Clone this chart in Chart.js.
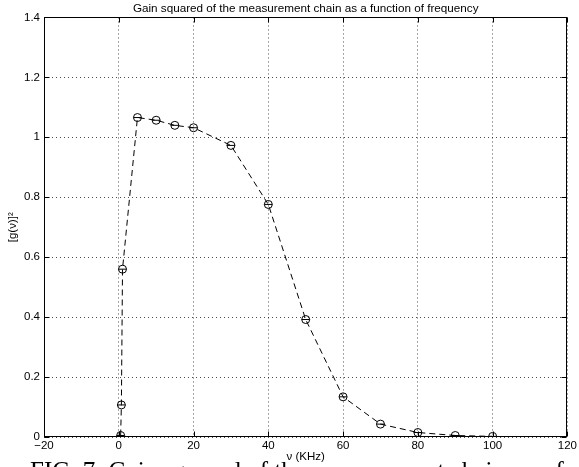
<!DOCTYPE html>
<html>
<head>
<meta charset="utf-8">
<script src="https://cdn.jsdelivr.net/npm/chart.js@4/dist/chart.umd.min.js"></script>
<style>
html,body{margin:0;padding:0;background:#fff;overflow:hidden;}
#wrap{position:relative;width:579px;height:467px;overflow:hidden;}
#c{position:absolute;left:0;top:0;}
#caption{position:absolute;left:30px;top:458px;font-family:"Liberation Serif","DejaVu Serif",serif;font-size:25px;line-height:25px;white-space:nowrap;color:#000;}
</style>
</head>
<body>
<div id="wrap">
<canvas id="c" width="579" height="467"></canvas>
<div id="caption">FIG. 7: Gain squared of the measurement chain as a function of frequency.</div>
</div>
<script>
const titleText = 'Gain squared of the measurement chain as a function of frequency';
const xLabel = 'ν (KHz)';
const yLabel = '[g(ν)]²';
const frequencies = [0.5, 0.7, 1, 5, 10, 15, 20, 30, 40, 50, 60, 70, 80, 90, 100];
const gainSquared = [0.005, 0.107, 0.56, 1.066, 1.057, 1.040, 1.032, 0.973, 0.776, 0.392, 0.134, 0.043, 0.015, 0.005, 0.002];
const xTicks = [-20, 0, 20, 40, 60, 80, 100, 120];
const yTicks = [0, 0.2, 0.4, 0.6, 0.8, 1, 1.2, 1.4];

const points = frequencies.map((f, i) => ({x: f, y: gainSquared[i]}));
const FONT = '"Liberation Sans", Arial, Helvetica, sans-serif';
Chart.defaults.font.family = FONT;
Chart.defaults.color = '#000';

const boxPlugin = {
  id: 'matlabBox',
  afterDraw(chart) {
    const {ctx, chartArea: a, scales} = chart;
    ctx.save();
    ctx.strokeStyle = '#000';
    ctx.lineWidth = 1;
    ctx.setLineDash([]);
    const L = Math.round(a.left) + 0.5, R = Math.round(a.right) - 0.5;
    const T = Math.round(a.top) + 0.5, B = Math.round(a.bottom) - 0.5;
    ctx.strokeRect(L, T, R - L, B - T);
    ctx.beginPath();
    const tl = 5;
    xTicks.forEach(v => {
      const px = Math.round(scales.x.getPixelForValue(v)) + 0.5;
      ctx.moveTo(px, B); ctx.lineTo(px, B - tl);
      ctx.moveTo(px, T); ctx.lineTo(px, T + tl);
    });
    yTicks.forEach(v => {
      const py = Math.round(scales.y.getPixelForValue(v)) + 0.5;
      ctx.moveTo(L, py); ctx.lineTo(L + tl, py);
      ctx.moveTo(R, py); ctx.lineTo(R - tl, py);
    });
    ctx.stroke();
    ctx.restore();
  }
};

new Chart(document.getElementById('c'), {
  type: 'scatter',
  data: {
    datasets: [
      {
        data: points,
        showLine: true,
        borderColor: '#000',
        borderWidth: 1,
        borderDash: [6, 4],
        tension: 0,
        pointStyle: 'circle',
        pointRadius: 4,
        pointBorderWidth: 1,
        pointBorderColor: '#000',
        pointBackgroundColor: 'rgba(0,0,0,0)'
      },
      {
        data: points,
        showLine: false,
        pointStyle: 'line',
        pointRadius: 4,
        pointBorderWidth: 1,
        pointBorderColor: '#000',
        borderColor: '#000'
      }
    ]
  },
  options: {
    responsive: false,
    animation: false,
    devicePixelRatio: 1,
    layout: {padding: {left: 0, right: 8, top: 0, bottom: 0}},
    plugins: {
      legend: {display: false},
      tooltip: {enabled: false},
      title: {
        display: true,
        text: titleText,
        fullSize: false,
        color: '#000',
        font: {family: FONT, size: 11.7, weight: 'normal', lineHeight: 1.15},
        padding: {top: 2, bottom: 2}
      }
    },
    scales: {
      x: {
        type: 'linear',
        min: -20,
        max: 120,
        afterBuildTicks: s => { s.ticks = xTicks.map(v => ({value: v})); },
        afterFit: s => { s.height = 30; },
        ticks: {color: '#000', font: {size: 11.5}, padding: 2, maxRotation: 0, autoSkip: false,
                callback: v => String(v).replace('-', '\u2212')},
        grid: {color: 'rgba(0,0,0,0.7)', lineWidth: 1, drawTicks: false, tickLength: 0},
        border: {display: false, dash: [1, 3]},
        title: {display: true, text: xLabel, color: '#000', font: {size: 11.5, lineHeight: 1.2}, padding: {top: 0, bottom: 3}}
      },
      y: {
        type: 'linear',
        min: 0,
        max: 1.4,
        afterBuildTicks: s => { s.ticks = yTicks.map(v => ({value: v})); },
        afterFit: s => { s.width = 44; },
        ticks: {color: '#000', font: {size: 11.5}, padding: 4, callback: v => String(+v.toFixed(1))},
        grid: {color: 'rgba(0,0,0,0.7)', lineWidth: 1, drawTicks: false, tickLength: 0},
        border: {display: false, dash: [1, 3]},
        title: {display: true, text: yLabel, color: '#000', font: {size: 11.5, lineHeight: 1.2}, padding: {top: 6, bottom: 0}}
      }
    }
  },
  plugins: [boxPlugin]
});
</script>
</body>
</html>
